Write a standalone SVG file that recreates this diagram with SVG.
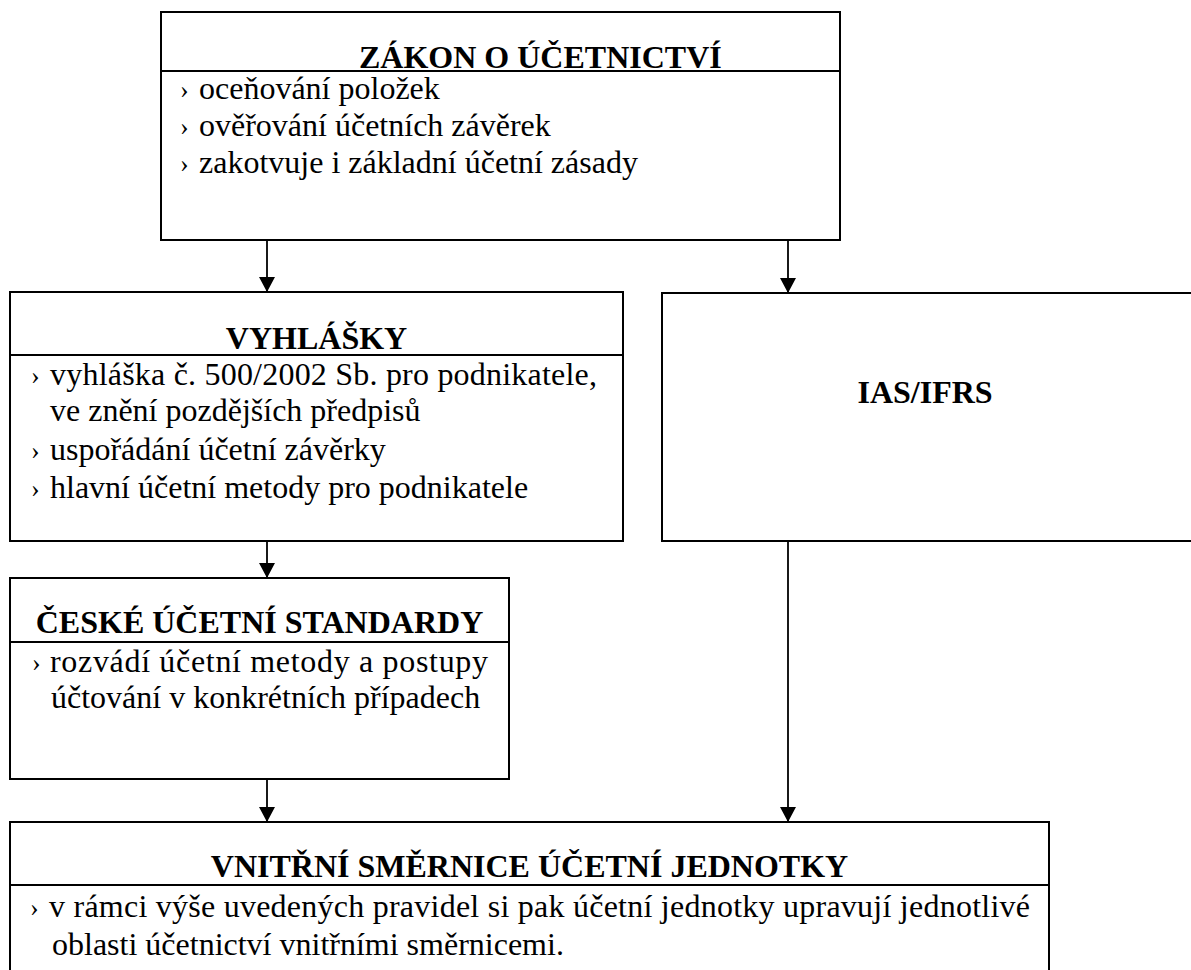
<svg xmlns="http://www.w3.org/2000/svg" width="1191" height="970" viewBox="0 0 1191 970">
  <defs>
    <marker id="ah" markerWidth="16" markerHeight="16" refX="15" refY="8" orient="auto" markerUnits="userSpaceOnUse">
      <path d="M0,0 L15,8 L0,16 Z" fill="#000"/>
    </marker>
    <style>
      .box{fill:#fff;stroke:#000;stroke-width:2}
      .div{stroke:#000;stroke-width:2}
      .t{font-family:"Liberation Serif","Times New Roman",serif;font-size:32px;font-weight:bold;fill:#000}
      .b{font-family:"Liberation Serif","Times New Roman",serif;font-size:32px;fill:#000}
      .bu{font-family:"Liberation Serif","Times New Roman",serif;font-size:26px;fill:#000}
      .c{stroke:#000;stroke-width:1.8;fill:none}
    </style>
  </defs>
  <rect width="1191" height="970" fill="#fff"/>

  <g id="connectors">
    <line class="c" x1="267" y1="240" x2="267" y2="292" marker-end="url(#ah)"/>
    <line class="c" x1="788" y1="240" x2="788" y2="293" marker-end="url(#ah)"/>
    <line class="c" x1="267" y1="541" x2="267" y2="578" marker-end="url(#ah)"/>
    <line class="c" x1="267" y1="779" x2="267" y2="822" marker-end="url(#ah)"/>
    <line class="c" x1="788" y1="541" x2="788" y2="822" marker-end="url(#ah)"/>
  </g>

  <g id="zakon">
    <rect class="box" x="161" y="12" width="679" height="228"/>
    <line class="div" x1="161" y1="71" x2="840" y2="71"/>
    <text class="t" x="359" y="68">ZÁKON O ÚČETNICTVÍ</text>
    <text class="bu" x="180" y="98">›</text>
    <text class="b" x="199" y="99">oceňování položek</text>
    <text class="bu" x="180" y="135">›</text>
    <text class="b" x="199" y="136">ověřování účetních závěrek</text>
    <text class="bu" x="180" y="172">›</text>
    <text class="b" x="199" y="173">zakotvuje i základní účetní zásady</text>
  </g>

  <g id="vyhlasky">
    <rect class="box" x="10" y="292" width="613" height="249"/>
    <line class="div" x1="10" y1="355" x2="623" y2="355"/>
    <text class="t" x="316.5" y="349" text-anchor="middle">VYHLÁŠKY</text>
    <text class="bu" x="31" y="384">›</text>
    <text class="b" x="50" y="385" textLength="547" lengthAdjust="spacing">vyhláška č. 500/2002 Sb. pro podnikatele,</text>
    <text class="b" x="50" y="421">ve znění pozdějších předpisů</text>
    <text class="bu" x="31" y="459">›</text>
    <text class="b" x="50" y="460">uspořádání účetní závěrky</text>
    <text class="bu" x="31" y="497">›</text>
    <text class="b" x="50" y="498">hlavní účetní metody pro podnikatele</text>
  </g>

  <g id="ias">
    <rect class="box" x="662" y="293" width="535" height="248"/>
    <text class="t" x="925" y="403" text-anchor="middle">IAS/IFRS</text>
  </g>

  <g id="ceske">
    <rect class="box" x="10" y="578" width="499" height="201"/>
    <line class="div" x1="10" y1="642" x2="509" y2="642"/>
    <text class="t" x="259.5" y="633" text-anchor="middle">ČESKÉ ÚČETNÍ STANDARDY</text>
    <text class="bu" x="32" y="671">›</text>
    <text class="b" x="50" y="672" textLength="438" lengthAdjust="spacing">rozvádí účetní metody a postupy</text>
    <text class="b" x="51" y="708">účtování v konkrétních případech</text>
  </g>

  <g id="smernice">
    <rect class="box" x="10" y="822" width="1039" height="160"/>
    <line class="div" x1="10" y1="885" x2="1049" y2="885"/>
    <text class="t" x="529.5" y="877" text-anchor="middle">VNITŘNÍ SMĚRNICE ÚČETNÍ JEDNOTKY</text>
    <text class="bu" x="30" y="916">›</text>
    <text class="b" x="49" y="917" textLength="981" lengthAdjust="spacing">v rámci výše uvedených pravidel si pak účetní jednotky upravují jednotlivé</text>
    <text class="b" x="52" y="955">oblasti účetnictví vnitřními směrnicemi.</text>
  </g>
</svg>
